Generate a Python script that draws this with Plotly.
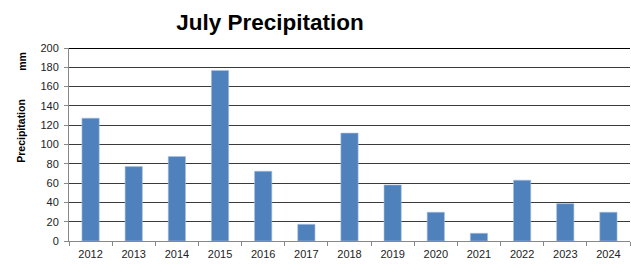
import plotly.graph_objects as go

years = ["2012", "2013", "2014", "2015", "2016", "2017", "2018",
         "2019", "2020", "2021", "2022", "2023", "2024"]
precip_mm = [127.3, 77.1, 87.5, 176.8, 72.3, 17.3, 111.8,
             58.1, 29.8, 8.0, 63.0, 38.7, 29.8]
y_ticks = [0, 20, 40, 60, 80, 100, 120, 140, 160, 180, 200]

fig = go.Figure(go.Bar(
    x=years, y=precip_mm,
    marker=dict(color="#4F81BD", line=dict(color="#A7BFDE", width=0.6)),
    width=0.4,
))

fig.update_layout(
    width=631, height=265,
    margin=dict(l=69, r=1, t=48, b=24, autoexpand=False),
    paper_bgcolor="white", plot_bgcolor="white",
    showlegend=False,
    font=dict(family="Liberation Sans, Arial, sans-serif", size=11, color="#222"),
    title=dict(text="<b>July Precipitation</b>", x=0.428, xanchor="center",
               y=0.915, yanchor="middle",
               font=dict(size=22.5, color="#000", family="Liberation Sans, Arial, sans-serif")),
    bargap=0.6,
)

fig.update_xaxes(
    type="category",
    showline=True, linecolor="#888", linewidth=1,
    ticks="outside", tickson="boundaries", ticklen=4, tickcolor="#888",
    ticklabelstandoff=3,
    showgrid=False,
    tickfont=dict(size=11, color="#222"),
)
fig.update_yaxes(
    range=[0, 200], tickvals=y_ticks,
    showline=True, linecolor="#888", linewidth=1,
    ticks="outside", ticklen=4, tickcolor="#888",
    ticklabelstandoff=3,
    showgrid=True, gridcolor="#3a3a3a", gridwidth=1,
    zeroline=False,
    tickfont=dict(size=11, color="#222"),
)

# thicker top border line at 200
fig.add_shape(type="line", xref="paper", yref="y", x0=0, x1=1, y0=200, y1=200,
              line=dict(color="#000", width=2))

fig.add_annotation(text="<b>Precipitation</b>", xref="paper", yref="paper",
                   x=-0.085, y=0.573, textangle=-90, showarrow=False,
                   xanchor="center", yanchor="middle",
                   font=dict(size=10.5, color="#000"))
fig.add_annotation(text="<b>mm</b>", xref="paper", yref="paper",
                   x=-0.085, y=0.93, textangle=-90, showarrow=False,
                   xanchor="center", yanchor="middle",
                   font=dict(size=10.5, color="#000"))

fig.write_html("out.html", config={"displayModeBar": False},
               post_script="document.body.style.margin='0';")
